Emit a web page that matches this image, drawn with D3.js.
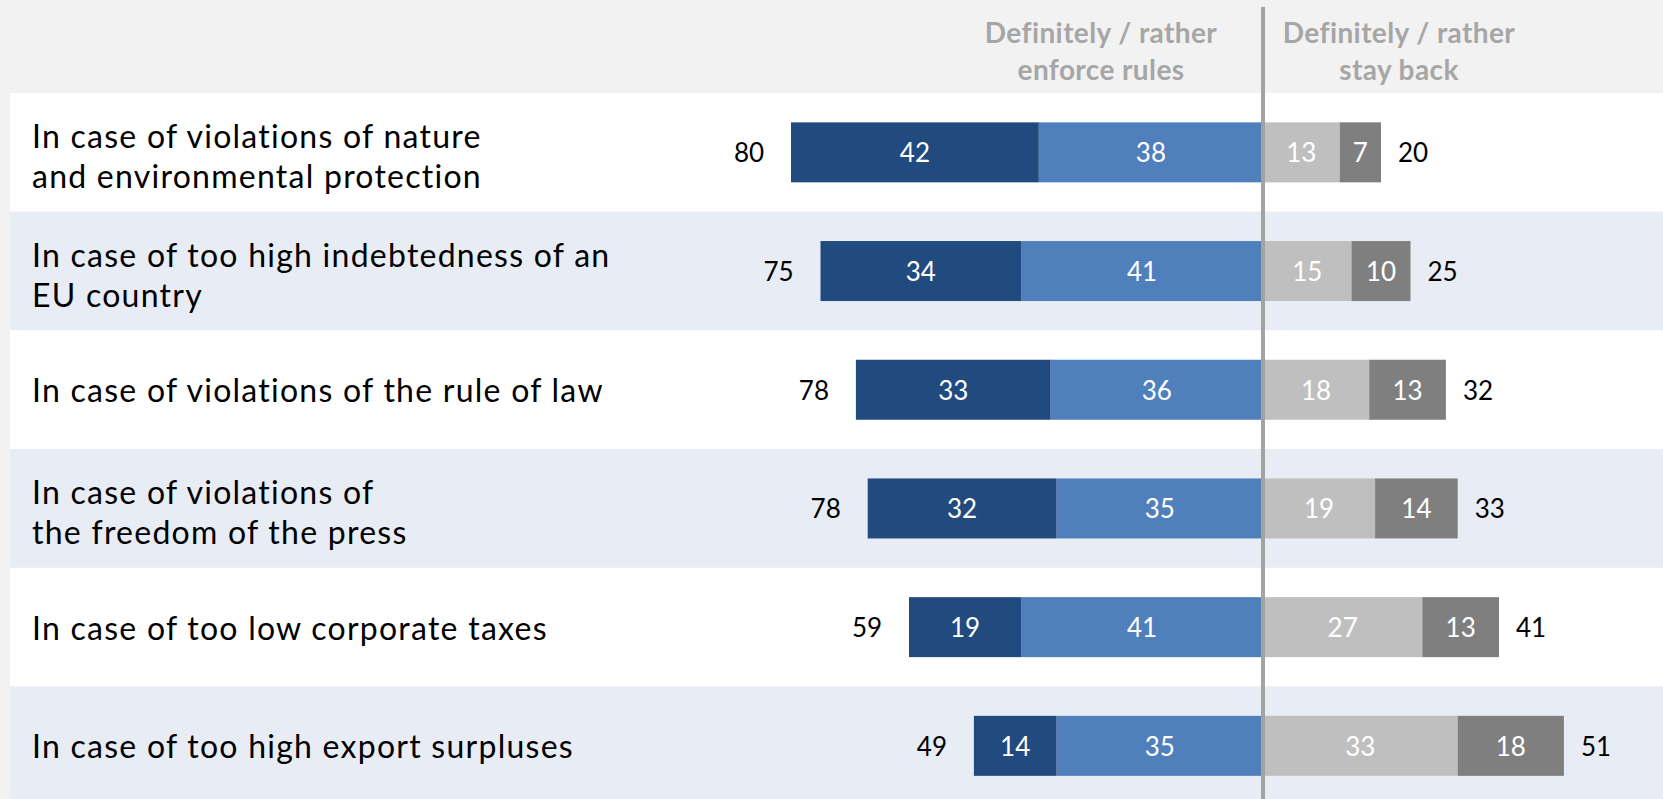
<!DOCTYPE html>
<html>
<head>
<meta charset="utf-8">
<script src="https://cdn.jsdelivr.net/npm/d3@7"></script>
<style>
  html, body { margin: 0; padding: 0; background: #f2f2f2; overflow: hidden; }
  svg { display: block; }
  text { font-family: Lato, "Open Sans", sans-serif; }
</style>
</head>
<body>
<svg id="chart" width="1663" height="799"></svg>
<script>
// ---- data ----
const categories = [
  "In case of violations of nature\nand environmental protection",
  "In case of too high indebtedness of an\nEU country",
  "In case of violations of the rule of law",
  "In case of violations of\nthe freedom of the press",
  "In case of too low corporate taxes",
  "In case of too high export surpluses"
];
const definitelyEnforce = [42, 34, 33, 32, 19, 14];
const ratherEnforce     = [38, 41, 36, 35, 41, 35];
const ratherStayBack    = [13, 15, 18, 19, 27, 33];
const definitelyStayBack = [7, 10, 13, 14, 13, 18];
const totalEnforce   = [80, 75, 78, 78, 59, 49];
const totalStayBack  = [20, 25, 32, 33, 41, 51];
const headerEnforce  = ["Definitely / rather", "enforce rules"];
const headerStayBack = ["Definitely / rather", "stay back"];

// ---- layout ----
const W = 1663, H = 799;
const svg = d3.select("#chart");
const x = d3.scaleLinear().domain([-100, 100]).range([1263 - 590, 1263 + 590]);
const y = d3.scaleBand().domain(categories).range([93, 93 + 6 * 118.7]).paddingInner(0);
const barH = 60;

const colors = {
  defEnf: "#214a7e",
  ratEnf: "#4f80bc",
  ratStay: "#bfbfbf",
  defStay: "#7f7f7f"
};

// header background
svg.append("rect").attr("x", 0).attr("y", 0).attr("width", W).attr("height", H).attr("fill", "#f2f2f2");

// row backgrounds
svg.selectAll("rect.rowbg").data(categories).join("rect")
  .attr("class", "rowbg")
  .attr("x", 10)
  .attr("y", d => y(d))
  .attr("width", W - 10)
  .attr("height", y.bandwidth())
  .attr("fill", (d, i) => i % 2 === 0 ? "#ffffff" : "#e8ecf4");

// row labels
categories.forEach((c, i) => {
  const lines = c.split("\n");
  const cy = y(c) + y.bandwidth() / 2 + (lines.length > 1 ? 3 : 0);
  const lh = 40;
  const t = svg.append("text")
    .attr("x", 32)
    .attr("font-size", 32)
    .attr("letter-spacing", 1.25)
    .attr("fill", "#000");
  lines.forEach((ln, j) => {
    t.append("tspan")
      .attr("x", 32)
      .attr("y", cy + (j - (lines.length - 1) / 2) * lh)
      .attr("dominant-baseline", "central")
      .text(ln);
  });
});

// stacked segments
const rows = categories.map((c, i) => {
  const segs = [];
  segs.push({ x0: -ratherEnforce[i], x1: 0, v: ratherEnforce[i], fill: colors.ratEnf });
  segs.push({ x0: -ratherEnforce[i] - definitelyEnforce[i], x1: -ratherEnforce[i], v: definitelyEnforce[i], fill: colors.defEnf });
  segs.push({ x0: 0, x1: ratherStayBack[i], v: ratherStayBack[i], fill: colors.ratStay });
  segs.push({ x0: ratherStayBack[i], x1: ratherStayBack[i] + definitelyStayBack[i], v: definitelyStayBack[i], fill: colors.defStay });
  return { c, i, segs };
});

const g = svg.selectAll("g.row").data(rows).join("g").attr("class", "row");
g.selectAll("rect.seg").data(r => r.segs.map(s => Object.assign({ c: r.c }, s))).join("rect")
  .attr("class", "seg")
  .attr("x", d => x(d.x0))
  .attr("width", d => x(d.x1) - x(d.x0))
  .attr("y", d => y(d.c) + y.bandwidth() / 2 - barH / 2)
  .attr("height", barH)
  .attr("fill", d => d.fill);

g.selectAll("text.seglab").data(r => r.segs.map(s => Object.assign({ c: r.c }, s))).join("text")
  .attr("class", "seglab")
  .attr("x", d => (x(d.x0) + x(d.x1)) / 2)
  .attr("y", d => y(d.c) + y.bandwidth() / 2)
  .attr("dominant-baseline", "central")
  .attr("text-anchor", "middle")
  .attr("font-size", 26)
  .attr("fill", "#ffffff")
  .text(d => d.v);

// totals
g.append("text")
  .attr("x", r => x(-(ratherEnforce[r.i] + definitelyEnforce[r.i])) - 42)
  .attr("y", r => y(r.c) + y.bandwidth() / 2)
  .attr("dominant-baseline", "central")
  .attr("text-anchor", "middle")
  .attr("font-size", 26)
  .attr("fill", "#000")
  .text(r => totalEnforce[r.i]);

g.append("text")
  .attr("x", r => x(ratherStayBack[r.i] + definitelyStayBack[r.i]) + 17)
  .attr("y", r => y(r.c) + y.bandwidth() / 2)
  .attr("dominant-baseline", "central")
  .attr("text-anchor", "start")
  .attr("font-size", 26)
  .attr("fill", "#000")
  .text(r => totalStayBack[r.i]);

// divider
svg.append("line")
  .attr("x1", x(0)).attr("x2", x(0))
  .attr("y1", 7).attr("y2", H)
  .attr("stroke", "#a3a3a3").attr("stroke-width", 4);

// headers
function header(lines, cx) {
  const t = svg.append("text")
    .attr("text-anchor", "middle")
    .attr("font-size", 28)
    .attr("letter-spacing", 0.4)
    .attr("font-weight", "bold")
    .attr("fill", "#a6a6a6");
  lines.forEach((ln, j) => {
    t.append("tspan").attr("x", cx).attr("y", 32 + j * 37)
      .attr("dominant-baseline", "central").text(ln);
  });
}
header(headerEnforce, x(0) - 162);
header(headerStayBack, x(0) + 136);
</script>
</body>
</html>
